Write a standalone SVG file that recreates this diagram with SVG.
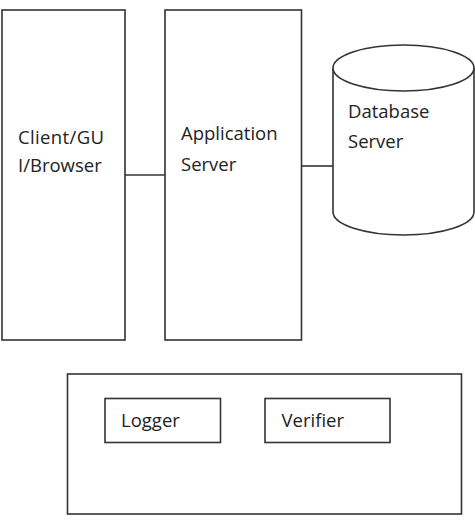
<svg xmlns="http://www.w3.org/2000/svg" width="475" height="531" viewBox="0 0 475 531">
<style>
.s{fill:#fff;stroke:#333;stroke-width:1.6}
.c{fill:none;stroke:#333;stroke-width:1.6}
text{font-family:"Open Sans","Liberation Sans",sans-serif;font-size:18.5px;fill:#222}
</style>
<rect width="475" height="531" fill="#fff"/>
<g id="connectors">
<line class="c" x1="125" y1="175" x2="165" y2="175"/>
<line class="c" x1="301.5" y1="166" x2="333" y2="166"/>
</g>
<g id="client">
<rect class="s" x="2" y="10" width="123" height="330"/>
<text x="18" y="144" textLength="86">Client/GU</text>
<text x="18" y="172">I/Browser</text>
</g>
<g id="appserver">
<rect class="s" x="165" y="10" width="136.5" height="330"/>
<text x="181" y="140">Application</text>
<text x="181" y="171">Server</text>
</g>
<g id="database">
<path class="s" d="M333,68 L333,212 A70.5,23 0 0 0 474,212 L474,68"/>
<ellipse class="s" cx="403.5" cy="68" rx="70.5" ry="23"/>
<text x="348" y="118">Database</text>
<text x="348" y="148">Server</text>
</g>
<g id="container">
<rect class="s" x="67.5" y="374" width="394" height="140"/>
</g>
<g id="logger">
<rect class="s" x="105" y="398.5" width="115.5" height="44"/>
<text x="121" y="427">Logger</text>
</g>
<g id="verifier">
<rect class="s" x="265" y="398.5" width="125" height="44"/>
<text x="281.5" y="427">Verifier</text>
</g>
</svg>
